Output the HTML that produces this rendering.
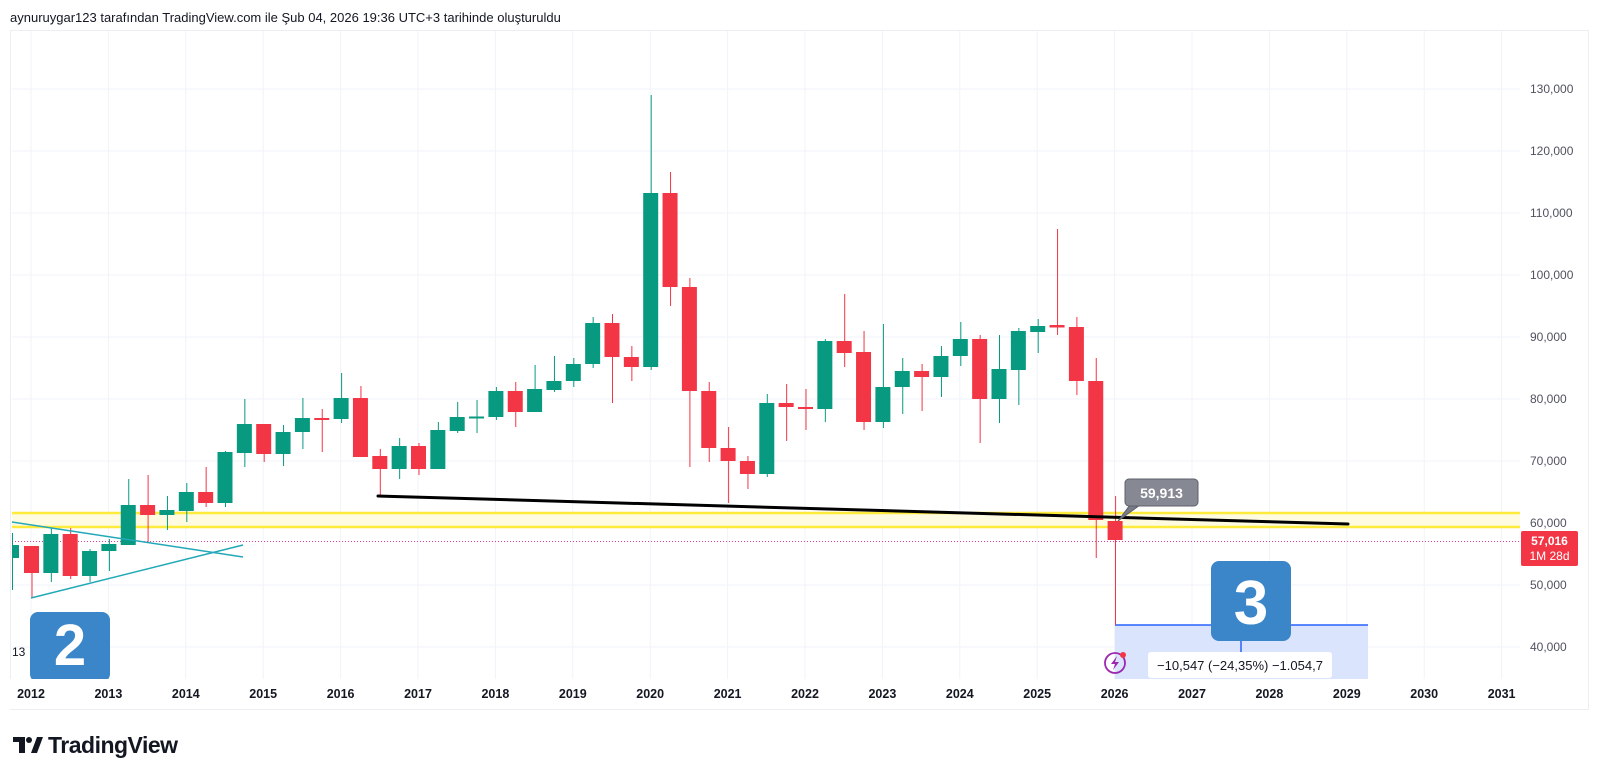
<!DOCTYPE html>
<html><head><meta charset="utf-8"><style>
html,body{margin:0;padding:0;background:#fff;width:1600px;height:776px;overflow:hidden}
svg{position:absolute;left:0;top:0}
text{font-family:"Liberation Sans","DejaVu Sans",sans-serif}
</style></head><body>
<svg id="s" width="1600" height="776" xmlns="http://www.w3.org/2000/svg">
<text x="10" y="22" font-size="13" fill="#131722">aynuruygar123 tarafından TradingView.com ile Şub 04, 2026 19:36 UTC+3 tarihinde oluşturuldu</text>
<rect x="10.5" y="30.5" width="1578" height="679" fill="#fff" stroke="#eceef2"/>
<g id="grid" stroke="#f0f3fa" stroke-width="1"></g>
<rect x="12" y="513" width="1508" height="14" fill="#fffbe0"/>
<line x1="12" y1="513" x2="1520" y2="513" stroke="#ffeb3b" stroke-width="2.5"/>
<line x1="12" y1="527" x2="1520" y2="527" stroke="#ffeb3b" stroke-width="2.5"/>
<line x1="12" y1="541.5" x2="1520" y2="541.5" stroke="#e040a0" stroke-width="1" stroke-dasharray="1,2"/>
<rect x="1115" y="625" width="253" height="54" fill="#dbe4fd"/>
<line x1="1115" y1="625" x2="1368" y2="625" stroke="#2962ff" stroke-width="1.5"/>
<line x1="1241" y1="625" x2="1241" y2="655" stroke="#2962ff" stroke-width="1.5"/>
<g id="candles"></g>
<line x1="12" y1="522" x2="243" y2="557" stroke="#22a8b8" stroke-width="1.5"/>
<line x1="31" y1="598" x2="243" y2="545" stroke="#22a8b8" stroke-width="1.5"/>
<line x1="378" y1="496" x2="1348" y2="524" stroke="#000" stroke-width="3" stroke-linecap="round"/>
<line x1="1115.5" y1="540" x2="1115.5" y2="625" stroke="#f23645" stroke-width="1"/>
<rect x="30" y="612" width="80" height="70" rx="8" fill="#3a86c8"/>
<text x="70" y="665" font-size="58" font-weight="bold" fill="#fff" text-anchor="middle">2</text>
<rect x="10" y="679" width="1578" height="30" fill="#fff"/>
<text x="12" y="656" font-size="12" fill="#131722">13</text>
<rect x="1211" y="561" width="80" height="80" rx="8" fill="#3a86c8"/>
<text x="1251" y="624" font-size="62" font-weight="bold" fill="#fff" text-anchor="middle">3</text>
<rect x="1148" y="652" width="184" height="26" rx="3" fill="#fff"/>
<text x="1240" y="670" font-size="13" fill="#131722" text-anchor="middle">−10,547 (−24,35%) −1.054,7</text>
<circle cx="1115" cy="663" r="10" fill="none" stroke="#9c27b0" stroke-width="1.8"/>
<path d="M1117 656 L1111 664 L1115 664 L1113 670 L1119 662 L1115 662 Z" fill="#9c27b0"/>
<circle cx="1123" cy="655" r="3" fill="#f23645"/>
<path d="M1140 505 L1118 521 L1130 505 Z" fill="#787b86" stroke="#5d606b"/>
<rect x="1125" y="479" width="73" height="27" rx="4" fill="#868993" stroke="#5d606b"/>
<text x="1161.5" y="498" font-size="14" font-weight="bold" fill="#fff" text-anchor="middle">59,913</text>
<g id="plab" font-size="12" fill="#50535e"></g>
<rect x="1521" y="531" width="57" height="35" rx="2" fill="#f23645"/>
<text x="1549.5" y="545" font-size="12" fill="#fff" text-anchor="middle" font-weight="bold">57,016</text>
<text x="1549.5" y="560" font-size="12" fill="#fff" text-anchor="middle">1M 28d</text>
<g id="xlab" font-size="12.5" font-weight="bold" fill="#131722" text-anchor="middle"></g>
<g transform="translate(13,735)">
<path d="M0 2 H12 V18 H6 V7 H0 Z" fill="#131722"/>
<circle cx="16" cy="5" r="3" fill="#131722"/>
<path d="M18 18 L24 2 H30 L24 18 Z" fill="#131722"/>
</g>
<text x="48" y="753" font-size="23" font-weight="bold" fill="#131722" letter-spacing="-0.5">TradingView</text>
</svg>
<script>
var NS="http://www.w3.org/2000/svg";
function el(p,t,a,txt){var e=document.createElementNS(NS,t);for(var k in a)e.setAttribute(k,a[k]);if(txt)e.textContent=txt;document.getElementById(p).appendChild(e);}
function yp(p){return 647-(p-40000)*0.0062;}
for(var p=40000;p<=130000;p+=10000){var y=yp(p);el("grid","line",{x1:12,y1:y,x2:1520,y2:y});
el("plab","text",{x:1530,y:y+4},(p/1000)+",000");}
for(var i=0;i<20;i++){var x=31+i*77.4;if(x<1520)el("grid","line",{x1:x,y1:31,x2:x,y2:679});
if(x<1520)el("xlab","text",{x:x,y:698},String(2012+i));}
// [bodyTop, bodyBot, wickTop, wickBot, color]
var G="#089981",R="#f23645";
var C=[
[545,558,533,590,G],[546,573,546,598,R],[534,573,528,582,G],[534,576,528,579,R],[551,576,549,582,G],
[544,551,539,571,G],[505,545,479,545,G],[505,515,475,542,R],[510,515,496,530,G],[492,511,483,522,G],
[492,503,467,507,R],[452,503,451,507,G],[424,453,399,467,G],[424,454,424,462,R],[432,454,425,466,G],
[418,432,398,449,G],[418,419.5,409,452,R],[398,419,373,423,G],[398,457,386,457,R],[456,469,449,496,R],
[446,469,438,479,G],[446,469,443,475,R],[430,469,422,469,G],[417,431,402,433,G],[416.5,418,400,433,G],
[391,417,387,420,G],[391,412,382,427,R],[389,412,365,412,G],[381,390,356,392,G],[364,381,358,387,G],
[323,364,317,368,G],[323,357,314,403,R],[357,367,346,381,R],[193,367,95,370,G],[193,287,172,306,R],
[287,391,278,467,R],[391,448,382,462,R],[448,461,427,503,R],[461,474,456,489,R],[403,474,394,477,G],
[403,407,384,441,R],[407,409,389,430,R],[341,409,339,422,G],[341,353,294,367,R],[352,422,331,430,R],
[387,422,324,428,G],[371,387,358,414,G],[371,377,364,411,R],[356,377,346,397,G],[339,356,322,366,G],
[339,399,335,443,R],[369,399,335,423,G],[331,370,328,405,G],[326,332,319,353,G],[325,327.5,229,335,R],
[327,381,317,395,R],[381,520,358,558,R],[521,540,496,540,R]];
for(var i=0;i<C.length;i++){var c=C[i];var cx=i==0?12:31.5+(i-1)*19.35;
el("candles","line",{x1:cx+0.5,y1:c[2],x2:cx+0.5,y2:c[3],stroke:c[4],"stroke-width":1});
var x0=cx-7.5,w=15;if(i==0){x0=12;w=7;}
el("candles","rect",{x:x0,y:c[0],width:w,height:Math.max(2,c[1]-c[0]),fill:c[4]});}
</script>
</body></html>
